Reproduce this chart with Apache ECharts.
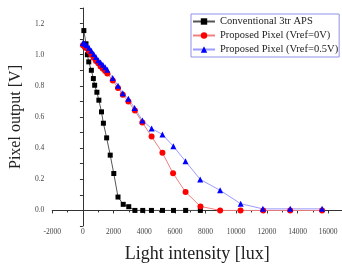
<!DOCTYPE html>
<html>
<head>
<meta charset="utf-8">
<script src="https://cdn.jsdelivr.net/npm/echarts@6/dist/echarts.min.js"></script>
<style>
  html, body { margin: 0; padding: 0; background: #fff; }
  #chart { width: 342px; height: 268px; }
</style>
</head>
<body>
<div id="chart"></div>
<script>
// 数据
var seriesNames = ['Conventional 3tr APS', 'Proposed Pixel (Vref=0V)', 'Proposed Pixel (Vref=0.5V)'];

var conventional = [
    [60, 1.155], [200, 1.07], [290, 1.0], [380, 0.954], [550, 0.90], [680, 0.847],
    [765, 0.804], [910, 0.759], [1040, 0.708], [1210, 0.633], [1335, 0.56], [1547, 0.466],
    [1780, 0.355], [2013, 0.237], [2288, 0.086], [2628, 0.039], [2988, 0.024], [3390, 0],
    [3900, 0], [4470, 0], [5190, 0], [5910, 0], [6700, 0], [7660, 0]
];

var vref0 = [
    [0, 1.06], [120, 1.05], [250, 1.04], [400, 1.02], [550, 1.0], [700, 0.98], [850, 0.96],
    [1000, 0.945], [1150, 0.925], [1300, 0.91], [1450, 0.895], [1590, 0.88], [1946, 0.835],
    [2288, 0.786], [2600, 0.743], [2964, 0.70], [3388, 0.641], [3877, 0.565], [4480, 0.474],
    [5186, 0.37], [5880, 0.238], [6696, 0.118], [7665, 0.026], [8950, 0], [10280, 0],
    [11760, 0], [13520, 0], [15600, 0]
];

var vref05 = [
    [0, 1.075], [120, 1.07], [250, 1.06], [400, 1.045], [550, 1.025], [700, 1.005], [850, 0.985],
    [1000, 0.965], [1150, 0.95], [1300, 0.935], [1450, 0.92], [1590, 0.904], [1946, 0.85],
    [2288, 0.80], [2600, 0.752], [2964, 0.718], [3370, 0.658], [3877, 0.578], [4480, 0.526],
    [5186, 0.488], [5900, 0.412], [6690, 0.316], [7650, 0.199], [8950, 0.129], [10290, 0.043],
    [11740, 0.01], [13520, 0.01], [15600, 0.01]
];

(function () {
    var myChart = echarts.init(document.getElementById('chart'));
    var serif = 'Liberation Serif, Times New Roman, serif';
    var option = {
        animation: false,
        backgroundColor: '#fff',
        grid: {
            left: 46,
            right: 0,
            top: 8,
            bottom: 41,
            containLabel: false
        },
        legend: {
            orient: 'vertical',
            left: 191,
            top: 14,
            padding: [2, 1, 2, 1],
            itemGap: 3,
            itemWidth: 22,
            itemHeight: 8,
            borderColor: '#9090e8',
            borderWidth: 1,
            backgroundColor: '#fff',
            textStyle: {
                fontFamily: serif,
                fontSize: 10.5,
                color: '#222'
            },
            data: seriesNames
        },
        xAxis: {
            type: 'value',
            min: -2000,
            max: 16900,
            interval: 2000,
            name: 'Light intensity [lux]',
            nameLocation: 'middle',
            nameGap: 19,
            nameTextStyle: { fontFamily: serif, fontSize: 18, color: '#222' },
            axisLine: { show: true, lineStyle: { color: '#333', width: 1 } },
            axisTick: { show: true, length: 3, lineStyle: { color: '#333' } },
            minorTick: { show: true, splitNumber: 2, length: 2, lineStyle: { color: '#333' } },
            axisLabel: {
                fontFamily: serif,
                fontSize: 7.5,
                color: '#444',
                margin: 2,
                showMaxLabel: false,
                // 不要千位分隔符
                formatter: function (v) {
                    return String(Math.round(v));
                }
            },
            splitLine: { show: false }
        },
        yAxis: {
            type: 'value',
            min: -0.1,
            max: 1.3,
            interval: 0.1,
            name: 'Pixel output [V]',
            nameLocation: 'middle',
            nameGap: 25,
            nameTextStyle: { fontFamily: serif, fontSize: 16, color: '#222' },
            axisLine: { show: true, lineStyle: { color: '#333', width: 1 } },
            axisTick: { show: true, length: 3, lineStyle: { color: '#333' } },
            axisLabel: {
                fontFamily: serif,
                fontSize: 7.5,
                color: '#444',
                margin: 8,
                // 只显示 0.2 的倍数
                formatter: function (v) {
                    var k = Math.round(v * 10);
                    if (k < 0 || k % 2 !== 0) return '';
                    return (k / 10).toFixed(1);
                }
            },
            splitLine: { show: false }
        },
        series: [
            {
                name: seriesNames[0],
                type: 'line',
                data: conventional,
                symbol: 'rect',
                symbolSize: 5,
                itemStyle: { color: '#000' },
                lineStyle: { color: '#555', width: 1 }
            },
            {
                name: seriesNames[1],
                type: 'line',
                data: vref0,
                symbol: 'circle',
                symbolSize: 6,
                itemStyle: { color: '#ff0000' },
                lineStyle: { color: '#f08080', width: 1 }
            },
            {
                name: seriesNames[2],
                type: 'line',
                data: vref05,
                symbol: 'triangle',
                symbolSize: 6,
                itemStyle: { color: '#0000ff' },
                lineStyle: { color: '#9a9aff', width: 1 }
            }
        ]
    };
    myChart.setOption(option);
    window.addEventListener('resize', function () {
        myChart.resize();
    });
})();
</script>
</body>
</html>
